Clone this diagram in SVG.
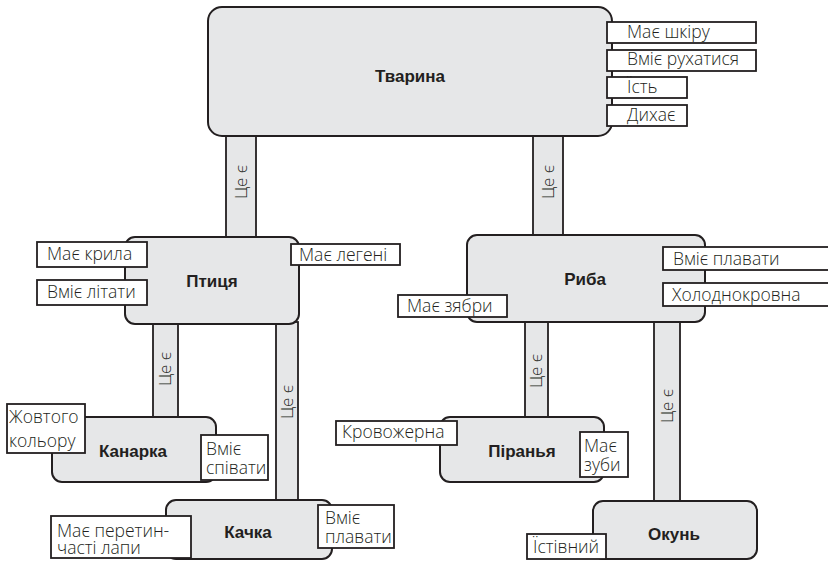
<svg xmlns="http://www.w3.org/2000/svg" width="828" height="561" viewBox="0 0 828 561">
<style>
.node{fill:#e6e7e8;stroke:#231f20;stroke-width:2}
.conn{fill:#e6e7e8;stroke:#231f20;stroke-width:1.8}
.lbl{fill:#ffffff;stroke:#231f20;stroke-width:1.8}
.title{font-family:"Liberation Sans",Arial,sans-serif;font-weight:bold;font-size:17px;fill:#231f20;text-anchor:middle}
.t{font-family:"Open Sans","DejaVu Sans",sans-serif;font-weight:300;font-size:17.5px;fill:#231f20}
.ct{font-family:"Open Sans","DejaVu Sans",sans-serif;font-weight:300;font-size:17px;fill:#231f20;text-anchor:middle}
</style>
<rect width="828" height="561" fill="#ffffff"/>
<g id="connectors">
  <rect class="conn" x="226" y="134" width="30" height="105"/>
  <text class="ct" transform="translate(247,182) rotate(-90)">Це є</text>
  <rect class="conn" x="533" y="134" width="30" height="103"/>
  <text class="ct" transform="translate(554,182) rotate(-90)">Це є</text>
  <rect class="conn" x="153" y="322" width="25" height="97"/>
  <text class="ct" transform="translate(171,369) rotate(-90)">Це є</text>
  <rect class="conn" x="276" y="322" width="22" height="180"/>
  <text class="ct" transform="translate(293,402) rotate(-90)">Це є</text>
  <rect class="conn" x="525" y="320" width="23" height="99"/>
  <text class="ct" transform="translate(542,371) rotate(-90)">Це є</text>
  <rect class="conn" x="654" y="320" width="26" height="183"/>
  <text class="ct" transform="translate(673,406) rotate(-90)">Це є</text>
</g>
<g id="tvaryna">
  <rect class="node" x="208" y="7" width="404" height="129" rx="14"/>
  <text class="title" x="410" y="82">Тварина</text>
  <rect class="lbl" x="607" y="22" width="149" height="21"/>
  <text class="t" x="627" y="38">Має шкіру</text>
  <rect class="lbl" x="607" y="50" width="149" height="21"/>
  <text class="t" x="627" y="65">Вміє рухатися</text>
  <rect class="lbl" x="607" y="77" width="80" height="21"/>
  <text class="t" x="627" y="93">Їсть</text>
  <rect class="lbl" x="607" y="105" width="80" height="21"/>
  <text class="t" x="627" y="121">Дихає</text>
</g>
<g id="ptytsia">
  <rect class="node" x="125" y="237" width="174" height="87" rx="10"/>
  <text class="title" x="212" y="287">Птиця</text>
  <rect class="lbl" x="37" y="242" width="110" height="25"/>
  <text class="t" x="47" y="260">Має крила</text>
  <rect class="lbl" x="37" y="280" width="110" height="25"/>
  <text class="t" x="47" y="298">Вміє літати</text>
  <rect class="lbl" x="291" y="244" width="109" height="21"/>
  <text class="t" x="299" y="261">Має легені</text>
</g>
<g id="ryba">
  <rect class="node" x="467" y="235" width="238" height="87" rx="10"/>
  <text class="title" x="585" y="285">Риба</text>
  <rect class="lbl" x="663" y="247" width="170" height="23"/>
  <text class="t" x="673" y="265">Вміє плавати</text>
  <rect class="lbl" x="663" y="283" width="170" height="23"/>
  <text class="t" x="672" y="301">Холоднокровна</text>
  <rect class="lbl" x="398" y="295" width="109" height="22"/>
  <text class="t" x="407" y="312">Має зябри</text>
</g>
<g id="kanarka">
  <rect class="node" x="52" y="417" width="164" height="65" rx="10"/>
  <text class="title" x="133" y="457">Канарка</text>
  <rect class="lbl" x="7" y="404" width="78" height="49"/>
  <text class="t" x="9" y="423">Жовтого</text>
  <text class="t" x="9" y="447">кольору</text>
  <rect class="lbl" x="201" y="435" width="67" height="45"/>
  <text class="t" x="206" y="455">Вміє</text>
  <text class="t" x="206" y="474">співати</text>
</g>
<g id="kachka">
  <rect class="node" x="166" y="500" width="166" height="59" rx="10"/>
  <text class="title" x="248" y="538">Качка</text>
  <rect class="lbl" x="51" y="516" width="140" height="42"/>
  <text class="t" x="57" y="537">Має перетин-</text>
  <text class="t" x="57" y="554">часті лапи</text>
  <rect class="lbl" x="318" y="505" width="76" height="43"/>
  <text class="t" x="325" y="524">Вміє</text>
  <text class="t" x="325" y="543">плавати</text>
</g>
<g id="piranha">
  <rect class="node" x="440" y="417" width="164" height="65" rx="10"/>
  <text class="title" x="522" y="457">Піранья</text>
  <rect class="lbl" x="336" y="421" width="121" height="24"/>
  <text class="t" x="342" y="438">Кровожерна</text>
  <rect class="lbl" x="580" y="432" width="48" height="45"/>
  <text class="t" x="584" y="452">Має</text>
  <text class="t" x="584" y="471">зуби</text>
</g>
<g id="okun">
  <rect class="node" x="593" y="501" width="164" height="58" rx="10"/>
  <text class="title" x="674" y="540">Окунь</text>
  <rect class="lbl" x="527" y="534" width="79" height="25"/>
  <text class="t" x="533" y="553">Їстівний</text>
</g>
</svg>
